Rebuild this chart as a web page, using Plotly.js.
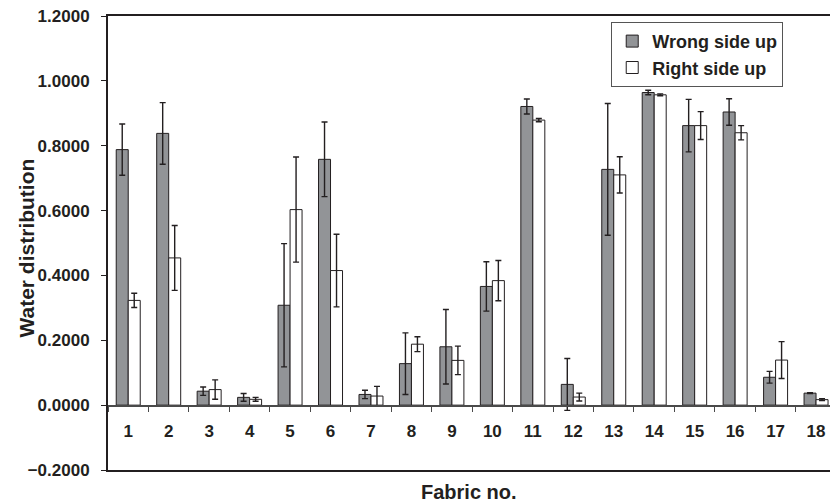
<!DOCTYPE html>
<html>
<head>
<meta charset="utf-8">
<script src="https://cdn.plot.ly/plotly-3.0.1.min.js"></script>
<style>html,body{margin:0;padding:0;background:#fff;}#chart{width:830px;height:504px;}</style>
</head>
<body>
<div id="chart"></div>
<script>
const fabric = [1,2,3,4,5,6,7,8,9,10,11,12,13,14,15,16,17,18];
const fabricLabels = ["1","2","3","4","5","6","7","8","9","10","11","12","13","14","15","16","17","18"];
const wrongSideUp = [0.788,0.838,0.043,0.024,0.308,0.758,0.033,0.128,0.180,0.366,0.921,0.064,0.727,0.964,0.862,0.904,0.086,0.037];
const wrongSideErr = [0.079,0.095,0.013,0.012,0.190,0.115,0.013,0.095,0.115,0.076,0.023,0.080,0.203,0.007,0.081,0.041,0.018,0.001];
const rightSideUp = [0.323,0.454,0.048,0.018,0.603,0.415,0.028,0.188,0.138,0.384,0.879,0.025,0.710,0.957,0.862,0.840,0.139,0.017];
const rightSideErr = [0.022,0.100,0.030,0.006,0.162,0.112,0.030,0.023,0.044,0.062,0.005,0.012,0.056,0.003,0.043,0.022,0.057,0.003];
const yTicks = [-0.2,0,0.2,0.4,0.6,0.8,1.0,1.2];
const xTitle = 'Fabric no.';
const yTitle = 'Water distribution';

const ink = '#231f20';
const FONT = 'Liberation Sans, Arial, sans-serif';
const xRange = [0.5, 18.345];

const errStyle = {type:'data', visible:true, color:ink, thickness:1.4, width:3};

const traces = [
  {type:'bar', name:'Wrong side up', x:fabric, y:wrongSideUp,
   marker:{color:'#929497', line:{color:ink, width:1}},
   error_y:Object.assign({array:wrongSideErr}, errStyle), xaxis:'x', yaxis:'y'},
  {type:'bar', name:'Right side up', x:fabric, y:rightSideUp,
   marker:{color:'#ffffff', line:{color:ink, width:1}},
   error_y:Object.assign({array:rightSideErr}, errStyle), xaxis:'x', yaxis:'y'},
  // carrier for the category axis drawn along y = 0 (draws nothing)
  {type:'scatter', mode:'none', x:fabric, y:wrongSideUp, xaxis:'x2', yaxis:'y',
   showlegend:false, hoverinfo:'skip'}
];

const layout = {
  width:830, height:504,
  margin:{l:108, r:0, t:16, b:34, pad:0},
  paper_bgcolor:'#fff', plot_bgcolor:'#fff',
  barmode:'group', bargap:0.407, bargroupgap:0,
  font:{family:FONT, color:ink},
  showlegend:true,
  legend:{x:0.697, y:0.987, xanchor:'left', yanchor:'top',
          bordercolor:'#555', borderwidth:1, bgcolor:'#fff',
          font:{family:FONT, size:18, weight:'bold', color:ink},
          tracegroupgap:0, itemwidth:30},
  xaxis:{range:xRange, showline:true, mirror:true, linecolor:ink, linewidth:2,
         ticks:'', showticklabels:false, showgrid:false, zeroline:false},
  xaxis2:{overlaying:'x', anchor:'free', position:0.142857, range:xRange,
          showline:true, linecolor:'#4a4a4a', linewidth:1.5,
          tickmode:'array', tickvals:fabric, ticktext:fabricLabels,
          ticks:'', ticklabelstandoff:10, showgrid:false, zeroline:false,
          tickfont:{family:FONT, size:17, weight:'bold', color:ink},
          minor:{ticks:'outside', tickmode:'linear', tick0:0.5, dtick:1, ticklen:5, tickwidth:1, tickcolor:'#4a4a4a', showgrid:false}},
  yaxis:{range:[-0.2,1.2], showline:true, linecolor:ink, linewidth:2,
         tickmode:'array', tickvals:yTicks, tickformat:'.4f',
         ticks:'outside', ticklen:5, tickwidth:1, tickcolor:ink, ticklabelstandoff:8,
         showgrid:false, zeroline:false,
         tickfont:{family:FONT, size:17, weight:'bold', color:ink}},
  annotations:[
    {text:xTitle, xref:'paper', yref:'paper', x:0.5, y:-0.0485, xanchor:'center', yanchor:'middle',
     showarrow:false, font:{family:FONT, size:20, weight:'bold', color:ink}},
    {text:yTitle, xref:'paper', yref:'paper', x:-0.1122, y:0.49, xanchor:'center', yanchor:'middle',
     textangle:-90, showarrow:false, font:{family:FONT, size:21, weight:'bold', color:ink}}
  ]
};

Plotly.newPlot('chart', traces, layout, {displayModeBar:false, staticPlot:true});
</script>
</body>
</html>
